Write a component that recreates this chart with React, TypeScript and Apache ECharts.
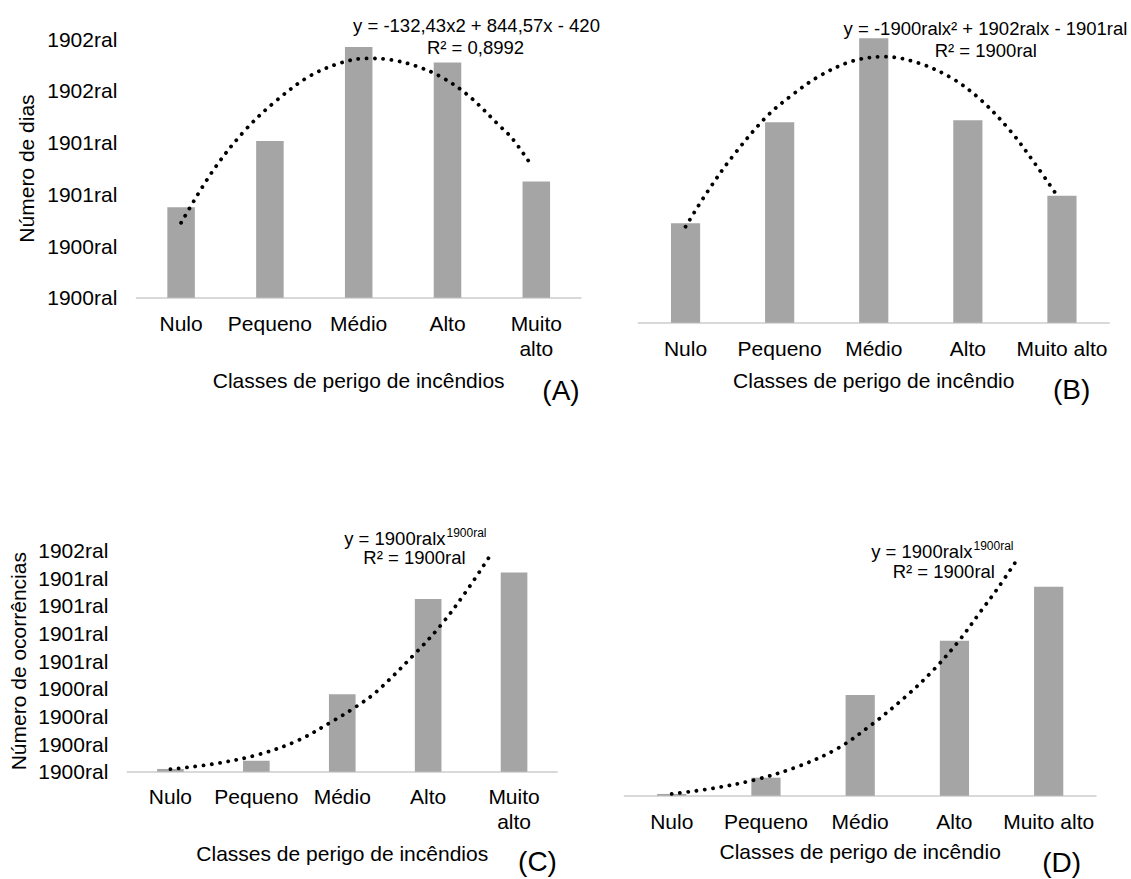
import React, { useEffect, useRef } from "react";
import * as echarts from "echarts";

const CATEGORIES = ["Nulo", "Pequeno", "Médio", "Alto", "Muito alto"];

const A_VALUES = [1.75, 3.03, 4.85, 4.55, 2.25];
const B_VALUES = [1.99, 4.01, 5.69, 4.05, 2.54];
const C_VALUES = [0.1, 0.4, 2.8, 6.25, 7.21];
const D_VALUES = [0.07, 0.72, 4.03, 6.2, 8.36];

const A_TICKS = ["1900ral", "1900ral", "1901ral", "1901ral", "1902ral", "1902ral"];
const C_TICKS = ["1900ral", "1900ral", "1900ral", "1900ral", "1901ral", "1901ral", "1901ral", "1901ral", "1902ral"];

const A_TREND = [[1.0, 1.45], [1.36, 2.46], [1.72, 3.24], [2.07, 3.81], [2.45, 4.29], [2.81, 4.55], [3.09, 4.63], [3.37, 4.6], [3.65, 4.48], [3.92, 4.28], [4.23, 3.92], [4.59, 3.32], [4.73, 3.08], [4.95, 2.55]];
const B_TREND = [[1.0, 1.92], [1.24, 2.64], [1.51, 3.35], [1.86, 4.12], [2.13, 4.55], [2.42, 4.93], [2.77, 5.23], [3.12, 5.32], [3.48, 5.19], [3.83, 4.89], [4.13, 4.47], [4.45, 3.84], [4.71, 3.19], [4.96, 2.51]];
const C_TREND = [[1.0, 0.09], [1.5, 0.28], [2.0, 0.6], [2.47, 1.11], [2.91, 1.87], [3.15, 2.33], [3.4, 2.9], [3.87, 4.35], [4.16, 5.35], [4.45, 6.56], [4.74, 7.91]];
const D_TREND = [[1.0, 0.07], [1.46, 0.31], [1.9, 0.65], [2.34, 1.17], [2.76, 1.89], [3.13, 2.87], [3.49, 3.99], [3.77, 5.0], [4.04, 6.16], [4.29, 7.43], [4.46, 8.3], [4.64, 9.3]];

const EQ_A = "y = -132,43x2 + 844,57x - 420";
const R2_A = "R² = 0,8992";
const EQ_B = "y = -1900ralx² + 1902ralx - 1901ral";
const R2_B = "R² = 1900ral";
const EQ_POW = "y = 1900ralx";
const EQ_POW_EXP = "1900ral";
const R2_POW = "R² = 1900ral";

const Y_TITLE_A = "Número de dias";
const Y_TITLE_C = "Número de ocorrências";
const X_TITLE_AC = "Classes de perigo de incêndios";
const X_TITLE_BD = "Classes de perigo de incêndio";

const FONT = '"Liberation Sans", Arial, Helvetica, sans-serif';
const BAR_COLOR = "#a5a5a5";
const AXIS_COLOR = "#d9d9d9";

function textEl(text: string, x: number, y: number, size: number, align: string) {
  return {
    type: "text",
    x,
    y,
    silent: true,
    style: {
      text,
      fill: "#000",
      font: `${size}px ${FONT}`,
      align,
      verticalAlign: "middle",
      textAlign: align,
      textVerticalAlign: "middle",
    },
  };
}

export default function App() {
  const ref = useRef<HTMLDivElement>(null);

  useEffect(() => {
    if (!ref.current) return;
    const chart = echarts.init(ref.current, null, { renderer: "svg" });

    const grids = [
      { left: 136.7, top: 39.3, width: 444, height: 258.4 },
      { left: 638.5, top: 22.7, width: 470.5, height: 300 },
      { left: 127.5, top: 550.7, width: 429.5, height: 221 },
      { left: 624.6, top: 545.7, width: 471.2, height: 250 },
    ];
    const wrap = [true, false, true, false];
    const xNames = [X_TITLE_AC, X_TITLE_BD, X_TITLE_AC, X_TITLE_BD];
    const xGaps = [71.8, 46.8, 71.1, 45.5];
    const labelMargins = [13, 13, 12.5, 13.5];

    const xAxis: any[] = [];
    grids.forEach((_, i) => {
      xAxis.push({
        type: "category",
        gridIndex: i,
        data: CATEGORIES,
        axisTick: { show: false },
        axisLine: { lineStyle: { color: AXIS_COLOR, width: 2 } },
        axisLabel: {
          color: "#000",
          fontSize: 21,
          fontFamily: FONT,
          lineHeight: 25,
          margin: labelMargins[i],
          interval: 0,
          formatter: (v: string) => (wrap[i] ? v.replace(" ", "\n") : v),
        },
        name: xNames[i],
        nameLocation: "middle",
        nameGap: xGaps[i],
        nameTextStyle: { color: "#000", fontSize: 21, fontFamily: FONT },
      });
    });
    grids.forEach((_, i) => {
      xAxis.push({
        type: "value",
        gridIndex: i,
        min: 0.5,
        max: 5.5,
        show: false,
      });
    });

    const yAxis: any[] = [
      {
        type: "value",
        gridIndex: 0,
        min: 0,
        max: 5,
        interval: 1,
        axisLine: { show: false },
        axisTick: { show: false },
        splitLine: { show: false },
        axisLabel: {
          color: "#000",
          fontSize: 21,
          fontFamily: FONT,
          margin: 19.4,
          formatter: (v: number) => A_TICKS[Math.round(v)],
        },
        name: Y_TITLE_A,
        nameLocation: "middle",
        nameRotate: 90,
        nameGap: 99.5,
        nameTextStyle: { color: "#000", fontSize: 21, fontFamily: FONT },
      },
      { type: "value", gridIndex: 1, min: 0, max: 6, show: false, splitLine: { show: false } },
      {
        type: "value",
        gridIndex: 2,
        min: 0,
        max: 8,
        interval: 1,
        axisLine: { show: false },
        axisTick: { show: false },
        splitLine: { show: false },
        axisLabel: {
          color: "#000",
          fontSize: 21,
          fontFamily: FONT,
          margin: 19.2,
          formatter: (v: number) => C_TICKS[Math.round(v)],
        },
        name: Y_TITLE_C,
        nameLocation: "middle",
        nameRotate: 90,
        nameGap: 98.7,
        nameTextStyle: { color: "#000", fontSize: 21, fontFamily: FONT },
      },
      { type: "value", gridIndex: 3, min: 0, max: 10, show: false, splitLine: { show: false } },
    ];

    const values = [A_VALUES, B_VALUES, C_VALUES, D_VALUES];
    const trends = [A_TREND, B_TREND, C_TREND, D_TREND];
    const series: any[] = [];
    values.forEach((vals, i) => {
      series.push({
        type: "bar",
        xAxisIndex: i,
        yAxisIndex: i,
        data: vals,
        barWidth: "31%",
        itemStyle: { color: BAR_COLOR },
        silent: true,
        z: 2,
      });
    });
    trends.forEach((tr, i) => {
      series.push({
        type: "line",
        xAxisIndex: 4 + i,
        yAxisIndex: i,
        data: tr,
        smooth: 0.35,
        symbol: "none",
        silent: true,
        z: 5,
        lineStyle: {
          color: "#000",
          width: 3.8,
          type: [0.1, 8.2],
          cap: "round",
        },
      });
    });

    const graphic: any[] = [
      textEl(EQ_A, 476.5, 25, 18.5, "center"),
      textEl(R2_A, 475.5, 47, 18.5, "center"),
      textEl(EQ_B, 985.5, 28.3, 18.5, "center"),
      textEl(R2_B, 985.8, 50, 18.5, "center"),
      textEl(EQ_POW, 445.5, 538.3, 18.5, "right"),
      textEl(EQ_POW_EXP, 446.5, 533, 12, "left"),
      textEl(R2_POW, 414.5, 557.3, 18.5, "center"),
      textEl(EQ_POW, 972.5, 551.7, 18.5, "right"),
      textEl(EQ_POW_EXP, 973.5, 546, 12, "left"),
      textEl(R2_POW, 943.8, 571.7, 18.5, "center"),
      textEl("(A)", 561, 390, 28, "center"),
      textEl("(B)", 1071.7, 389, 28, "center"),
      textEl("(C)", 537.5, 861, 28, "center"),
      textEl("(D)", 1061.7, 862, 28, "center"),
    ];

    chart.setOption({
      animation: false,
      backgroundColor: "#fff",
      textStyle: { fontFamily: FONT },
      grid: grids.map((g) => ({ ...g, containLabel: false })),
      xAxis,
      yAxis,
      series,
      graphic,
    });

    return () => {
      chart.dispose();
    };
  }, []);

  return (
    <div
      ref={ref}
      style={{ position: "absolute", left: 0, top: 0, width: 1131, height: 879 }}
    />
  );
}
